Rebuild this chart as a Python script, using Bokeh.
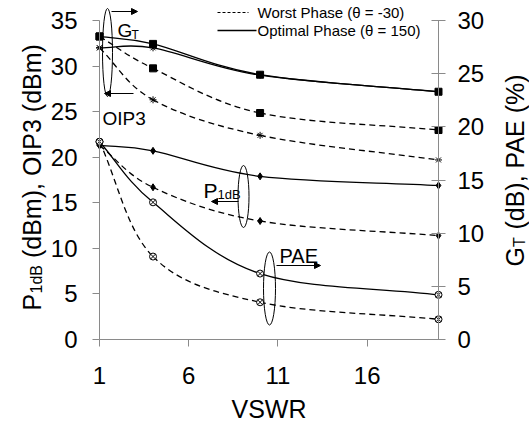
import math
from bokeh.plotting import figure
from bokeh.models import Range1d, LinearAxis, FixedTicker, Label, Arrow, NormalHead
from bokeh.embed import file_html
from bokeh.resources import INLINE

# ---------------- data ----------------
vswr = [1, 4, 10, 20]
gt_opt = [28.5, 27.8, 24.9, 23.3]        # right axis, dB
gt_worst = [28.5, 25.5, 21.3, 19.7]      # right axis, dB
oip3_opt = [32.0, 32.0, 29.0, 27.2]      # left axis, dBm
oip3_worst = [32.0, 26.3, 22.4, 19.7]    # left axis, dBm
p1db_opt = [21.3, 20.7, 17.9, 16.9]      # left axis, dBm
p1db_worst = [21.3, 16.7, 13.0, 11.4]    # left axis, dBm
pae_opt = [18.6, 12.9, 6.2, 4.2]         # right axis, %
pae_worst = [18.6, 7.8, 3.5, 1.9]        # right axis, %

x_ticks = [1, 6, 11, 16]
left_ticks = [0, 5, 10, 15, 20, 25, 30, 35]
right_ticks = [0, 5, 10, 15, 20, 25, 30]

# ---------------- layout ----------------
W, H = 529, 427
FL, FR, FB, FT = 99, 438, 339, 20    # data area (canvas px)
SX = (FR - FL) / (20 - 1)
SY = (FB - FT) / 35.0
FONT = "Liberation Sans"
NB = "\u00a0"

def dx(px):
    return 1 + (px - FL) / SX

def dy(py):
    return (FB - py) / SY

p = figure(width=W, height=H, output_backend="svg", toolbar_location=None,
           x_range=Range1d(dx(0), dx(W)), y_range=Range1d(dy(H), dy(0)),
           min_border=0, min_border_left=0, min_border_right=0,
           min_border_top=0, min_border_bottom=0)
p.extra_y_ranges = {"right": Range1d(dy(H) * 30 / 35, dy(0) * 30 / 35)}
p.outline_line_color = None
p.grid.visible = False
p.background_fill_color = "white"
p.border_fill_color = "white"

AX = "#8a8a8a"
def style_axis(ax, fs="24px"):
    ax.axis_line_color = AX
    ax.major_tick_line_color = AX
    ax.minor_tick_line_color = None
    ax.major_label_text_font = FONT
    ax.major_label_text_font_size = fs
    ax.major_label_text_color = "black"
    ax.axis_label_text_font = FONT
    ax.axis_label_text_font_style = "normal"
    ax.axis_label_text_color = "black"

xa = p.xaxis[0]
style_axis(xa)
xa.fixed_location = 0
xa.bounds = (1, 20)
xa.ticker = FixedTicker(ticks=x_ticks)
xa.major_tick_out = 7
xa.major_tick_in = 0
xa.major_label_standoff = 20
xa.axis_label = "VSWR"
xa.axis_label_text_font_size = "25px"
xa.axis_label_standoff = 8

ya = p.yaxis[0]
style_axis(ya)
ya.fixed_location = 1
ya.ticker = FixedTicker(ticks=left_ticks)
ya.bounds = (0, 35)
ya.major_tick_out = 7
ya.major_tick_in = 0
ya.major_label_standoff = 15

ra = LinearAxis(y_range_name="right")
style_axis(ra)
ra.fixed_location = 20
ra.ticker = FixedTicker(ticks=right_ticks)
ra.bounds = (0, 30)
ra.major_tick_out = 7
ra.major_tick_in = 7
ra.major_label_standoff = 12
p.add_layout(ra, "right")

# ---------------- smooth curves (bezier through data points) ----------------
def bezier_parts(xs, ys):
    n = len(xs)
    mx, my = [], []
    for i in range(n):
        if i == 0:
            mx.append(xs[1] - xs[0]); my.append(ys[1] - ys[0])
        elif i == n - 1:
            mx.append(xs[-1] - xs[-2]); my.append(ys[-1] - ys[-2])
        else:
            mx.append((xs[i + 1] - xs[i - 1]) / 2); my.append((ys[i + 1] - ys[i - 1]) / 2)
    d = dict(x0=[], y0=[], x1=[], y1=[], cx0=[], cy0=[], cx1=[], cy1=[])
    for i in range(n - 1):
        d["x0"].append(xs[i]); d["y0"].append(ys[i])
        d["x1"].append(xs[i + 1]); d["y1"].append(ys[i + 1])
        d["cx0"].append(xs[i] + mx[i] / 3); d["cy0"].append(ys[i] + my[i] / 3)
        d["cx1"].append(xs[i + 1] - mx[i + 1] / 3); d["cy1"].append(ys[i + 1] - my[i + 1] / 3)
    return d

DASH = "6 4"
series = [
    (gt_opt, "right", "solid", "square", 7),
    (gt_worst, "right", DASH, "square", 7),
    (oip3_opt, "default", "solid", "asterisk", 7),
    (oip3_worst, "default", DASH, "asterisk", 7),
    (p1db_opt, "default", "solid", "diamond", 7),
    (p1db_worst, "default", DASH, "diamond", 7),
    (pae_opt, "right", "solid", "circle_x", 7),
    (pae_worst, "right", DASH, "circle_x", 7),
]
for ys, rng, dash, marker, size in series:
    bp = bezier_parts(vswr, ys)
    p.bezier(x0=bp["x0"], y0=bp["y0"], x1=bp["x1"], y1=bp["y1"],
             cx0=bp["cx0"], cy0=bp["cy0"], cx1=bp["cx1"], cy1=bp["cy1"],
             line_color="black", line_width=1.3, line_dash=dash, y_range_name=rng)
    fill = "white" if marker == "circle_x" else "black"
    p.scatter(vswr, ys, marker=marker, size=size, line_color="black",
              fill_color=fill, line_width=1, y_range_name=rng)

# ---------------- legend ----------------
p.segment(x0=[dx(217)], y0=[dy(12)], x1=[dx(248)], y1=[dy(12)],
          line_color="black", line_width=1, line_dash="3 2")
p.segment(x0=[dx(217)], y0=[dy(30)], x1=[dx(256)], y1=[dy(30)],
          line_color="black", line_width=1.4)
for txt, py in [("Worst Phase (\u03b8 = -30)", 12), ("Optimal Phase (\u03b8 = 150)", 30)]:
    p.add_layout(Label(x=dx(257), y=dy(py), text=txt, text_font=FONT,
                       text_font_size="15px", text_baseline="middle",
                       text_align="left", text_color="black"))

# ---------------- annotations ----------------
def arrow(x0, y0, x1, y1):
    p.add_layout(Arrow(end=NormalHead(size=6, fill_color="black", line_color="black"),
                       x_start=dx(x0), y_start=dy(y0), x_end=dx(x1), y_end=dy(y1),
                       line_color="black", line_width=1.2))

def lab(txt, px, py, fs, align="left", baseline="alphabetic", angle=0.0):
    p.add_layout(Label(x=dx(px), y=dy(py), text=txt, text_font=FONT,
                       text_font_size=fs, text_align=align, text_baseline=baseline,
                       text_color="black", angle=angle))

p.ellipse(x=[dx(107), dx(243), dx(269)], y=[dy(52), dy(196), dy(288)],
          width=[10, 11, 12], height=[88, 62, 73],
          width_units="screen", height_units="screen",
          fill_color=None, line_color="black", line_width=1)

# G_T
arrow(111, 11, 137, 11)
lab("G", 117, 30, "19px")
lab("T", 131, 34, "12px")
# OIP3
arrow(133, 93, 104, 93)
lab("OIP3", 102, 118, "19px")
# P1dB
lab("P", 203, 190, "21px")
lab("1dB", 217, 194, "13px")
arrow(238, 201, 211, 201)
# PAE
lab("PAE", 279, 255, "20px")
arrow(276, 265, 320, 265)

# ---------------- rotated axis titles ----------------
A = math.pi / 2
# left: P_1dB (dBm), OIP3 (dBm)
lab("P", 31, 310, "25px", angle=A)
lab("1dB", 36, 293, "16px", angle=A)
lab(NB + "(dBm), OIP3 (dBm)", 31, 264.5, "25px", angle=A)
# right: G_T (dB), PAE (%)
lab("G", 514, 266, "25px", angle=A)
lab("T", 519, 246.5, "16px", angle=A)
lab(NB + "(dB), PAE (%)", 514, 236, "25px", angle=A)

open("out.html", "w").write(file_html(p, INLINE))
